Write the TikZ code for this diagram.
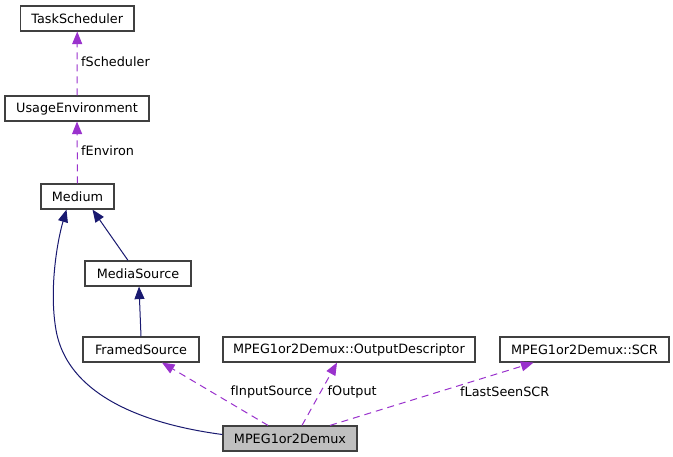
\documentclass[tikz,border=0pt]{standalone}
\usepackage{fontspec}
\setmainfont{DejaVu Sans}
\usetikzlibrary{arrows.meta,calc}
\definecolor{edgeblue}{HTML}{191970}
\definecolor{edgepurple}{HTML}{9A32CD}
\definecolor{boxline}{HTML}{404040}
\definecolor{boxfill}{HTML}{BFBFBF}
\begin{document}
\begin{tikzpicture}[x=1bp,y=-1bp,
  cls/.style={draw=boxline,line width=1.2bp,fill=white,minimum height=25bp,inner sep=0pt,
    font=\fontsize{12.8bp}{14bp}\selectfont},
  inherit/.style={draw=edgeblue,line width=1bp,-{Triangle[length=12.5bp,width=10bp]}},
  usage/.style={draw=edgepurple,line width=1bp,dash pattern=on 7bp off 5bp,-{Triangle[length=12.5bp,width=10bp]}},
  lbl/.style={anchor=west,inner sep=0pt,font=\fontsize{12.8bp}{14bp}\selectfont}]
\useasboundingbox[fill=white] (0,0) rectangle (673,457);
% nodes
\node[cls,minimum width=113.5bp] (ts) at (77.25,18.5) {TaskScheduler};
\node[cls,minimum width=144bp] (ue) at (77,108.5) {UsageEnvironment};
\node[cls,minimum width=73bp] (med) at (77.5,196.5) {Medium};
\node[cls,minimum width=106bp] (ms) at (138,273.5) {MediaSource};
\node[cls,minimum width=116bp] (fs) at (141,349.5) {FramedSource};
\node[cls,minimum width=252bp] (od) at (349,349.5) {MPEG1or2Demux::OutputDescriptor};
\node[cls,minimum width=169bp] (scr) at (584.5,349.5) {MPEG1or2Demux::SCR};
\node[cls,minimum width=134bp,fill=boxfill] (dm) at (290,438.5) {MPEG1or2Demux};
% edges
\draw[usage] (ue.north) -- (ts.south);
\draw[usage] (med.north) -- (ue.south);
\draw[inherit] ([xshift=-10bp]ms.north) -- ([xshift=15bp]med.south);
\draw[inherit] (fs.north) -- ([xshift=1bp]ms.south);
\draw[inherit] ([yshift=4bp]dm.west) .. controls (150,425) and (68,398) .. (56,330)
  .. controls (49,290) and (57,242) .. ([xshift=-11bp]med.south);
\draw[usage] ([xshift=-22bp]dm.north) -- ([xshift=21bp]fs.south);
\draw[usage] ([xshift=12bp]dm.north) -- ([xshift=-12bp]od.south);
\draw[usage] ([xshift=40bp]dm.north) -- ([xshift=-51bp]scr.south);
% labels
\node[lbl] (l1) at (81,62) {fScheduler};
\node[lbl] (l2) at (81,151) {fEnviron};
\node[lbl] (l3) at (230.5,392) {fInputSource};
\node[lbl] (l4) at (327.5,392) {fOutput};
\node[lbl] (l5) at (460,392) {fLastSeenSCR};
\end{tikzpicture}
\end{document}
